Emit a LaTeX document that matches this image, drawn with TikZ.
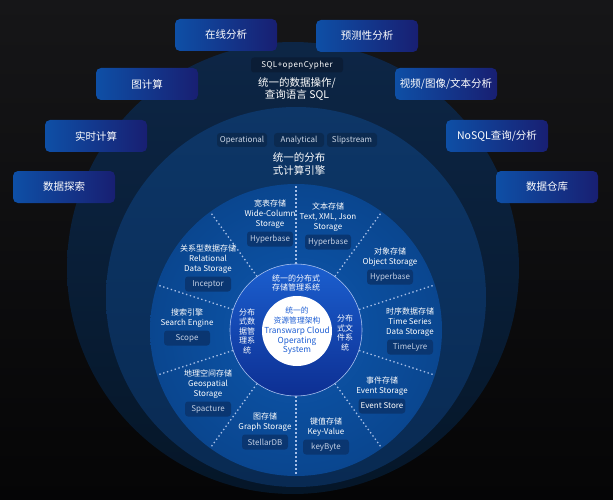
\documentclass[tikz,border=0pt]{standalone}
\usepackage{fontspec}
\setmainfont{Noto Sans CJK SC}
\usepackage{tikz}
\usepackage{xcolor}
\usetikzlibrary{
    positioning,
    calc
}
\definecolor{FundoTopo}{HTML}{161618}
\definecolor{FundoBase}{HTML}{050506}
\definecolor{NavyOuterTop}{HTML}{0D2646}
\definecolor{NavyOuterBase}{HTML}{051628}
\definecolor{EngineTop}{HTML}{0D3667}
\definecolor{EngineBase}{HTML}{092A52}
\definecolor{DiskInner}{HTML}{0D57AE}
\definecolor{DiskOuter}{HTML}{0A468F}
\definecolor{RingTop}{HTML}{1B5FCF}
\definecolor{RingBase}{HTML}{0D2F93}
\definecolor{RingEdge}{HTML}{A9C2EF}
\definecolor{CoreBlue}{HTML}{1D5ED4}
\definecolor{TagFill}{HTML}{0B2A50}
\definecolor{TagText}{HTML}{CDD8E8}
\definecolor{SqlFill}{HTML}{0B1D36}
\definecolor{ProdFill}{HTML}{0A3671}
\definecolor{ProdText}{HTML}{C2CFE4}
\definecolor{BoxLeft}{HTML}{0E4FA6}
\definecolor{BoxRight}{HTML}{181F72}
\definecolor{DotLine}{HTML}{A4BDE6}

\tikzset{
    appbox/.style={
        rounded corners=5pt,
        minimum width=102pt,
        minimum height=32pt,
        left color=BoxLeft,
        right color=BoxRight,
        text=white,
        font=\fontsize{10.5}{12}\selectfont
    },
    tagbox/.style={
        fill=TagFill,
        rounded corners=3pt,
        minimum width=50pt,
        minimum height=14pt,
        inner sep=2pt,
        text=TagText,
        font=\fontsize{8}{9}\selectfont
    },
    prodbox/.style={
        fill=ProdFill,
        rounded corners=3pt,
        minimum width=46pt,
        minimum height=15pt,
        inner sep=2pt,
        text=ProdText,
        font=\fontsize{8}{9}\selectfont
    },
    seglabel/.style={
        align=center,
        inner sep=0pt,
        text=white,
        font=\fontsize{8}{10}\selectfont
    },
    headtxt/.style={
        align=center,
        inner sep=0pt,
        text=white,
        font=\fontsize{10.5}{12.5}\selectfont
    },
    ringtxt/.style={
        align=center,
        inner sep=0pt,
        text=white,
        font=\fontsize{8}{9.5}\selectfont
    },
    layer/.style={
        circle,
        inner sep=0pt
    },
    divider/.style={
        draw=DotLine,
        line width=1.3pt,
        dash pattern=on 1.4pt off 2.6pt
    }
}

\begin{document}
\begin{tikzpicture}[x=1pt,y=-1pt]

                \useasboundingbox (0,0) rectangle (613,500);
                \shade[top color=FundoTopo, bottom color=FundoBase] (0,0) rectangle (613,500);

                \node[layer, minimum size=452pt, top color=NavyOuterTop, bottom color=NavyOuterBase] (sqllayer) at (293,268) {};
                \node[layer, minimum size=380pt, top color=EngineTop, bottom color=EngineBase] (engine) at (296,297) {};
                \node[layer, minimum size=292pt, inner color=DiskInner, outer color=DiskOuter] (disk) at (296,330) {};
                \node[layer, minimum size=132pt, top color=RingTop, bottom color=RingBase, draw=RingEdge, line width=0.6pt] (ring) at (296,330) {};
                \node[layer, minimum size=70pt, fill=white] (core) at (297,331) {};

                \foreach \a in {18,54,...,342}
                    \draw[divider] (ring.\a) -- (disk.\a);

                \node[align=center, inner sep=0pt, text=CoreBlue, font=\fontsize{7.8}{9.8}\selectfont] (coretxt) at (core) {
                    统一的\\资源管理架构\\
                    {\fontsize{8.3}{9.8}\selectfont Transwarp Cloud}\\
                    {\fontsize{8.3}{9.8}\selectfont Operating}\\
                    {\fontsize{8.3}{9.8}\selectfont System}
                };

                \node[ringtxt] (storetop) at (296,283) {统一的分布式\\存储管理系统};
                \node[ringtxt] (storeleft) at (247,331) {分布\\式数\\据管\\理系\\统};
                \node[ringtxt] (storeright) at (345,333) {分布\\式文\\件系\\统};

                \foreach \nm/\px/\py/\txt/\prod in {
                    wide/270/239/{宽表存储\\Wide-Column\\Storage}/Hyperbase,
                    textdoc/328/242/{文本存储\\Text, XML, Json\\Storage}/Hyperbase,
                    object/390/277/{对象存储\\Object Storage}/Hyperbase,
                    timeser/410/347/{时序数据存储\\Time Series\\Data Storage}/TimeLyre,
                    event/382/406/{事件存储\\Event Storage}/{\color{white}Event Store},
                    keyval/326/447/{键值存储\\Key-Value}/keyByte,
                    graph/265/442/{图存储\\Graph Storage}/StellarDB,
                    geo/208/409/{地理空间存储\\Geospatial\\Storage}/Spacture,
                    search/187/338/{搜索引擎\\Search Engine}/Scope,
                    relational/208/284/{关系型数据存储\\Relational\\Data Storage}/Inceptor
                }{
                    \node[prodbox] (p\nm) at (\px,\py) {\prod};
                    \node[seglabel, above=3pt of p\nm] (s\nm) {\txt};
                }

                \node[tagbox] (operational) at (242,140) {Operational};
                \node[tagbox] (analytical) at (299,140) {Analytical};
                \node[tagbox] (slipstream) at (352,140) {Slipstream};
                \node[headtxt] (engtitle) at (299,164) {统一的分布\\式计算引擎};

                \node[fill=SqlFill, rounded corners=3pt, minimum width=92pt, minimum height=15pt, inner sep=2pt,
                      text=white, font=\fontsize{8}{9}\selectfont] (cypher) at (297,65) {\addfontfeature{LetterSpace=6}SQL+openCypher};
                \node[headtxt] (sqltitle) at (297,89) {统一的数据操作/\\查询语言 SQL};

                \node[appbox] (online) at (226,35) {在线分析};
                \node[appbox] (predict) at (367,36) {预测性分析};
                \node[appbox] (graphcalc) at (147,84) {图计算};
                \node[appbox] (media) at (446,84) {视频/图像/文本分析};
                \node[appbox] (realtime) at (96,136) {实时计算};
                \node[appbox] (nosql) at (497,136) {NoSQL查询/分析};
                \node[appbox] (explore) at (64,187) {数据探索};
                \node[appbox] (warehouse) at (547,187) {数据仓库};

            \end{tikzpicture}
\end{document}
